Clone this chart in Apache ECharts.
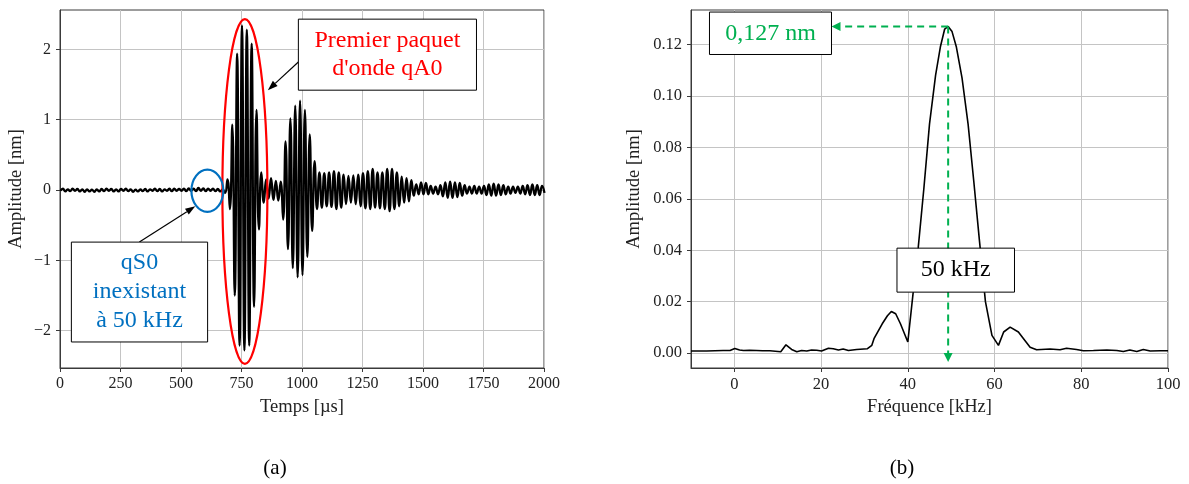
<!DOCTYPE html>
<html><head><meta charset="utf-8">
<script src="https://cdn.jsdelivr.net/npm/echarts@6/dist/echarts.min.js"></script>
<style>html,body{margin:0;padding:0;background:#fff}#c{width:1189px;height:484px}</style>
</head><body><div id="c"></div>
<script>
// ---- Data ----
// (a) time signal: extremum samples every 10 µs starting at 2 µs
const sigStartUs = 2;
const sigStepUs = 10;
const sigAmplitude = [
 -0.01, 0.02, -0.02, 0.01, -0.015, 0.02, -0.01, 0.015, -0.02, 0.01,
 -0.025, 0.01, -0.02, 0.005, -0.025, 0.01, -0.02, 0.015, -0.015, 0.02,
 -0.01, 0.015, -0.02, 0.01, -0.02, 0.015, -0.01, 0.02, -0.015, 0.01,
 -0.025, 0.005, -0.02, 0.01, -0.015, 0.015, -0.02, 0.01, -0.01, 0.02,
 -0.015, 0.015, -0.02, 0.01, -0.01, 0.02, -0.015, 0.02, -0.01, 0.015,
 -0.01, 0.02, -0.015, 0.025, -0.01, 0.02, -0.015, 0.03, -0.01, 0.025,
 -0.015, 0.02, -0.01, 0.02, -0.015, 0.015, -0.02, 0.01,
 -0.04, 0.15, -0.27, 0.93, -1.50, 1.94, -2.21, 2.34, -2.28, 2.28, -2.21, 2.08,
 -1.66, 1.14, -0.56, 0.25, -0.18, 0.15, -0.12, 0.17, -0.14, 0.13, -0.15, 0.12,
 -0.42, 0.69, -0.84, 1.02, -1.11, 1.20, -1.24, 1.27, -1.21, 1.14, -0.95, 0.79, -0.58, 0.41,
 -0.27, 0.25, -0.25, 0.24, -0.23, 0.25, -0.24, 0.27, -0.27, 0.25,
 -0.25, 0.22, -0.20, 0.20, -0.18, 0.21, -0.20, 0.22, -0.23, 0.24,
 -0.26, 0.27, -0.27, 0.30, -0.25, 0.25, -0.26, 0.25, -0.27, 0.30,
 -0.30, 0.30, -0.27, 0.25, -0.23, 0.19, -0.18, 0.17, -0.16, 0.14,
 -0.08, 0.08, -0.06, 0.11, -0.06, 0.10,
 -0.06, 0.06, -0.05, 0.05, -0.06, 0.07, -0.09, 0.11, -0.11, 0.12,
 -0.11, 0.11, -0.10, 0.10, -0.08, 0.07, -0.05, 0.05, -0.05, 0.06,
 -0.05, 0.05, -0.05, 0.06, -0.07, 0.08, -0.08, 0.09, -0.08, 0.08,
 -0.07, 0.07, -0.06, 0.05, -0.05, 0.05, -0.04, 0.05, -0.05, 0.06,
 -0.06, 0.07, -0.07, 0.08, -0.07, 0.07, -0.07, 0.06, -0.04
];
// (b) spectrum
const specFreqKHz = [
 -10, -8, -6.4, -4.5, -2.6, -1, 0.1, 1.2, 2.1, 3.5, 5.1, 6.5, 8.2, 10.7, 11.9, 13.2, 14.4, 15.5,
 16.7, 17.8, 19, 20.1, 21.7, 22.8, 24.0, 25.1, 26.3, 28.2, 30.7, 31.7, 32.2, 34.1, 35.3, 36.2,
 37.2, 38.3, 40.0, 41.2, 42.4, 43.7, 45.0, 46.4, 47.5, 48.5, 49.3, 50.2, 51.2, 52.5, 53.9, 55.2,
 56.5, 57.9, 59.4, 60.9, 62.1, 63.6, 65.5, 67.0, 68.2, 69.7, 72.8, 75.1, 76.6, 78.9, 80.5, 82.8,
 85.9, 88.2, 89.7, 91.2, 92.8, 94.3, 95.9, 98.2, 100
];
const specAmpNm = [
 0.0008, 0.0008, 0.0008, 0.0009, 0.0010, 0.0010, 0.0018, 0.0012, 0.0010, 0.0011, 0.0010, 0.0009, 0.0009, 0.0005, 0.0032, 0.0014, 0.0005, 0.0010,
 0.0008, 0.0012, 0.0011, 0.0008, 0.0019, 0.0017, 0.0012, 0.0016, 0.0010, 0.0014, 0.0017, 0.0030, 0.0056, 0.0114, 0.0145, 0.0162,
 0.0153, 0.0114, 0.0043, 0.0230, 0.0410, 0.0640, 0.0890, 0.1080, 0.1190, 0.1260, 0.1270, 0.1250, 0.1190, 0.1070, 0.0890, 0.0670,
 0.0440, 0.0200, 0.0069, 0.0030, 0.0082, 0.0101, 0.0082, 0.0049, 0.0023, 0.0013, 0.0016, 0.0013, 0.0019, 0.0014, 0.0009, 0.0010,
 0.0012, 0.0010, 0.0006, 0.0012, 0.0006, 0.0014, 0.0008, 0.0009, 0.0009
];
const leftXTicks = [0, 250, 500, 750, 1000, 1250, 1500, 1750, 2000];
const leftYTicks = [-2, -1, 0, 1, 2];
const rightXTicks = [0, 20, 40, 60, 80, 100];
const rightYTicks = [0, 0.02, 0.04, 0.06, 0.08, 0.10, 0.12];
const peakFreq = 49.3, peakAmp = 0.127;

// ---- Build ----
const sigData = sigAmplitude.map((v, i) => [sigStartUs + i * sigStepUs, v]);
const specData = specFreqKHz.map((f, i) => [f, specAmpNm[i]]);
const FONT = '"Liberation Serif", "Times New Roman", serif';
const frame = '#3a3a3a', gridC = '#c4c4c4', labC = '#222';
const minus = s => String(s).replace('-', '\u2212');

const chart = echarts.init(document.getElementById('c'), null, {renderer: 'canvas'});
function axis(extra, ticks, fmt, fs, margin) {
  return Object.assign({
    type: 'value', nameLocation: 'middle',
    axisLine: {show: true, onZero: false, lineStyle: {color: frame, width: 1}},
    axisTick: {show: true, inside: false, length: 4, customValues: ticks, lineStyle: {color: frame}},
    splitLine: {show: true, lineStyle: {color: gridC, width: 1}},
    axisLabel: {fontFamily: FONT, fontSize: fs, color: labC, margin: margin, customValues: ticks, formatter: fmt},
    nameTextStyle: {fontFamily: FONT, fontSize: 18.5, color: labC},
  }, extra);
}
const option = {
  animation: false,
  backgroundColor: '#fff',
  grid: [
    {left: 60, top: 10, width: 484, height: 358, show: true, borderColor: frame, borderWidth: 1},
    {left: 691, top: 10, width: 477, height: 358, show: true, borderColor: frame, borderWidth: 1}
  ],
  xAxis: [
    axis({gridIndex: 0, min: 0, max: 2000, interval: 250, name: 'Temps [\u00b5s]', nameGap: 30},
      leftXTicks, v => String(v), 16, 8),
    axis({gridIndex: 1, min: -10, max: 100, splitNumber: 5, name: 'Fr\u00e9quence [kHz]', nameGap: 30},
      rightXTicks, v => minus(v), 16.5, 8)
  ],
  yAxis: [
    axis({gridIndex: 0, min: -2.53, max: 2.56, splitNumber: 5, name: 'Amplitude [nm]', nameGap: 34},
      leftYTicks, v => minus(Math.round(v)), 16, 9),
    axis({gridIndex: 1, min: -0.0058, max: 0.1334, splitNumber: 7, name: 'Amplitude [nm]', nameGap: 47},
      rightYTicks, v => v.toFixed(2), 16.5, 9)
  ],
  series: [
    {type: 'line', xAxisIndex: 0, yAxisIndex: 0, data: sigData, showSymbol: false, symbol: 'none',
      smooth: 0.5, lineStyle: {color: '#000', width: 2.3}, z: 3},
    {type: 'line', xAxisIndex: 1, yAxisIndex: 1, data: specData, showSymbol: false, symbol: 'none',
      lineStyle: {color: '#000', width: 1.6}, z: 3}
  ]
};
chart.setOption(option);

// ---- Annotations anchored on data coordinates ----
const pA = (x, y) => chart.convertToPixel({xAxisIndex: 0, yAxisIndex: 0}, [x, y]);
const pB = (x, y) => chart.convertToPixel({xAxisIndex: 1, yAxisIndex: 1}, [x, y]);
const els = [];
function ellipse(c, e, color) {
  els.push({type: 'ellipse', z: 50, shape: {cx: c[0], cy: c[1], rx: Math.abs(e[0] - c[0]), ry: Math.abs(e[1] - c[1])},
    style: {fill: null, stroke: color, lineWidth: 2.2}});
}
function box(a, b) {
  els.push({type: 'rect', z: 60, shape: {x: Math.min(a[0], b[0]), y: Math.min(a[1], b[1]),
    width: Math.abs(b[0] - a[0]), height: Math.abs(b[1] - a[1])},
    style: {fill: '#fff', stroke: '#000', lineWidth: 1}});
}
function text(x, y, s, color, size) {
  els.push({type: 'text', z: 61, x: x, y: y, style: {text: s, fill: color, font: size + 'px ' + FONT,
    align: 'center', verticalAlign: 'middle', textAlign: 'center', textVerticalAlign: 'middle'}});
}
function arrow(from, to, color, width, dash, hl, hw) {
  const dx = to[0] - from[0], dy = to[1] - from[1], L = Math.hypot(dx, dy);
  const ux = dx / L, uy = dy / L;
  const base = [to[0] - ux * hl, to[1] - uy * hl];
  els.push({type: 'line', z: 55, shape: {x1: from[0], y1: from[1], x2: base[0], y2: base[1]},
    style: {stroke: color, lineWidth: width, lineDash: dash}});
  els.push({type: 'polygon', z: 55, shape: {points: [to,
    [base[0] - uy * hw, base[1] + ux * hw], [base[0] + uy * hw, base[1] - ux * hw]]},
    style: {fill: color, stroke: null}});
}
// (a)
ellipse(pA(764, -0.02), pA(857, 2.43), '#ff0000');
ellipse(pA(609, -0.01), pA(675, 0.29), '#0070c0');
arrow(pA(985, 1.82), pA(859, 1.42), '#000', 1.2, null, 10, 3.5);
arrow(pA(328, -0.74), pA(559, -0.23), '#000', 1.2, null, 10, 3.5);
{ const a = pA(985, 2.43), b = pA(1721, 1.42); box(a, b);
  const cx = (a[0] + b[0]) / 2, cy = (a[1] + b[1]) / 2;
  text(cx, cy - 14, 'Premier paquet', '#ff0000', 24);
  text(cx, cy + 14, "d'onde qA0", '#ff0000', 24); }
{ const a = pA(47, -0.74), b = pA(610, -2.16); box(a, b);
  const cx = (a[0] + b[0]) / 2, cy = (a[1] + b[1]) / 2;
  text(cx, cy - 29, 'qS0', '#0070c0', 24);
  text(cx, cy, 'inexistant', '#0070c0', 24);
  text(cx, cy + 29, '\u00e0 50 kHz', '#0070c0', 24); }
// (b)
arrow(pB(peakFreq, peakAmp), pB(22.4, peakAmp), '#00b050', 2, [7, 5], 9, 4.5);
arrow(pB(peakFreq, peakAmp), pB(peakFreq, -0.0035), '#00b050', 2, [7, 5], 9, 4.5);
{ const a = pB(-5.74, 0.1326), b = pB(22.4, 0.1161); box(a, b);
  text((a[0] + b[0]) / 2, (a[1] + b[1]) / 2, '0,127 nm', '#00b050', 24); }
{ const a = pB(37.5, 0.0408), b = pB(64.6, 0.0237); box(a, b);
  text((a[0] + b[0]) / 2, (a[1] + b[1]) / 2, '50 kHz', '#000', 24); }
// captions
text(275, 468, '(a)', '#000', 21);
text(902, 468, '(b)', '#000', 21);

chart.setOption({graphic: {elements: els}});
</script></body></html>
